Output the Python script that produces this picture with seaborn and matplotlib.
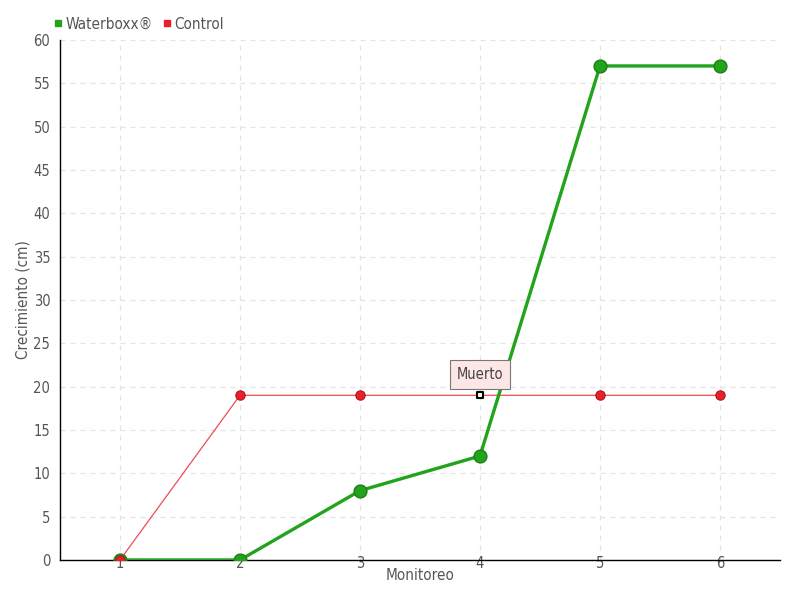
import matplotlib
matplotlib.use("Agg")
import matplotlib.pyplot as plt
import seaborn as sns
import pandas as pd

monitoreo = [1, 2, 3, 4, 5, 6]
waterboxx = [0, 0, 8, 12, 57, 57]
control = [0, 19, 19, 19, 19, 19]
y_ticks = [0, 5, 10, 15, 20, 25, 30, 35, 40, 45, 50, 55, 60]
annot_label = "Muerto"
annot_index = 3

sns.set_style("white")
plt.rcParams['font.family'] = ['DejaVu Sans']
plt.rcParams['font.stretch'] = 'condensed'

df = pd.DataFrame({"Monitoreo": monitoreo + monitoreo,
                   "Crecimiento": waterboxx + control,
                   "Serie": ["Waterboxx®"] * 6 + ["Control"] * 6})

fig = plt.figure(figsize=(8, 6), dpi=100)
ax = fig.add_axes([0.075, 0.0667, 0.9, 0.8667])

green = "#22a31c"
red = "#e8202a"

sns.lineplot(data=df[df.Serie == "Control"], x="Monitoreo", y="Crecimiento", ax=ax,
             color=red, linewidth=0.9, alpha=0.8, zorder=3, legend=False)
sns.lineplot(data=df[df.Serie == "Waterboxx®"], x="Monitoreo", y="Crecimiento", ax=ax,
             color=green, linewidth=2.4, zorder=4, legend=False)
ax.scatter(monitoreo, waterboxx, s=85, color=green, edgecolor="#1c7f18", linewidth=1, zorder=5)
cx = [m for i, m in enumerate(monitoreo) if i != annot_index]
cy = [c for i, c in enumerate(control) if i != annot_index]
ax.scatter(cx, cy, s=45, color=red, edgecolor="#b3131b", linewidth=0.8, zorder=6)
ax.scatter([monitoreo[annot_index]], [control[annot_index]], s=22, marker="s",
           color="white", edgecolor="black", linewidth=1.5, zorder=7)

ax.annotate(annot_label, xy=(monitoreo[annot_index], control[annot_index]),
            xytext=(0, 15), textcoords="offset points", ha="center", va="center",
            fontsize=10.5, color="#444444",
            bbox=dict(boxstyle="square,pad=0.45", fc="#fde6e6", ec="#777777", lw=0.8),
            zorder=8)

ax.set_xlim(0.5, 6.5)
ax.set_ylim(0, 60)
ax.set_xticks(monitoreo)
ax.set_yticks(y_ticks)
ax.grid(True, color="#e3e3e3", linestyle=(0, (4, 4)), linewidth=0.9)
for s in ["top", "right"]:
    ax.spines[s].set_visible(False)
for s in ["left", "bottom"]:
    ax.spines[s].set_color("black")
    ax.spines[s].set_linewidth(1)
ax.tick_params(axis="y", length=5, color="black", labelsize=10.5, labelcolor="#555555", pad=2)
ax.tick_params(axis="x", length=0, labelsize=10.5, labelcolor="#555555", pad=-3)
ax.set_xlabel("Monitoreo", fontsize=11, color="#555555", labelpad=-2)
ax.set_ylabel("Crecimiento (cm)", fontsize=11, color="#555555", labelpad=2)

from matplotlib.lines import Line2D
handles = [Line2D([], [], marker="s", color="none", markerfacecolor=green, markeredgecolor=green, markersize=5),
           Line2D([], [], marker="s", color="none", markerfacecolor=red, markeredgecolor=red, markersize=5)]
fig.legend(handles, ["Waterboxx®", "Control"], loc="upper left", bbox_to_anchor=(0.05, 0.995),
           ncol=2, frameon=False, handlelength=0.6, handletextpad=0.2, columnspacing=0.6,
           fontsize=11, labelcolor="#555555")

fig.savefig("out.png", dpi=100)
